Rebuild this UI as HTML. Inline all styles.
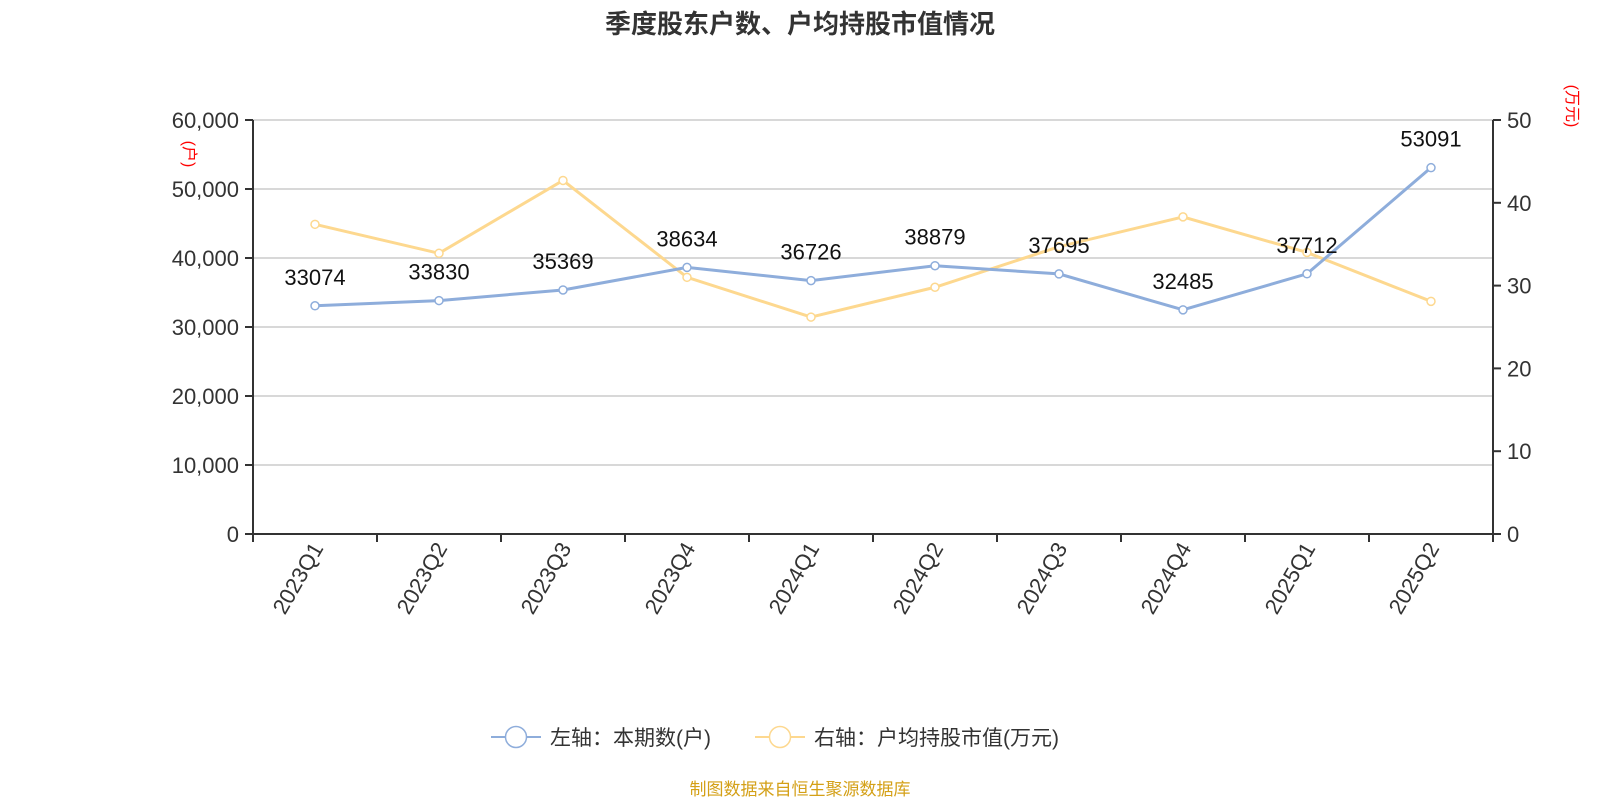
<!DOCTYPE html>
<html><head><meta charset="utf-8"><style>
html,body{margin:0;padding:0;background:#fff;width:1600px;height:800px;overflow:hidden}
text{font-family:"Liberation Sans","Noto Sans CJK SC",sans-serif}
</style></head><body>
<svg id="chart" width="1600" height="800" xmlns="http://www.w3.org/2000/svg">
<text x="800" y="33" text-anchor="middle" font-size="26" font-weight="bold" fill="#333">季度股东户数、户均持股市值情况</text>
<g id="grid"></g><g id="axes"></g><g id="series"></g>
<text transform="translate(184,154) rotate(90)" text-anchor="middle" font-size="16" fill="#f00">(户)</text>
<text transform="translate(1567,106) rotate(90)" text-anchor="middle" font-size="16" fill="#f00">(万元)</text>
<g>
<g><line x1="491" y1="737" x2="541" y2="737" stroke="#8eaddb" stroke-width="2"/><circle cx="516" cy="737" r="10.5" fill="#fff" stroke="#8eaddb" stroke-width="1.5"/><text x="550" y="745" font-size="21" fill="#333">左轴：本期数(户)</text></g>
<g><line x1="755" y1="737" x2="805" y2="737" stroke="#fdd88f" stroke-width="2"/><circle cx="780" cy="737" r="10.5" fill="#fff" stroke="#fdd88f" stroke-width="1.5"/><text x="814" y="745" font-size="21" fill="#333">右轴：户均持股市值(万元)</text></g>
</g>
<text x="800" y="795" text-anchor="middle" font-size="17" fill="#d4a017">制图数据来自恒生聚源数据库</text>
</svg>
<script>
const categories=["2023Q1","2023Q2","2023Q3","2023Q4","2024Q1","2024Q2","2024Q3","2024Q4","2025Q1","2025Q2"];
const holders=[33074,33830,35369,38634,36726,38879,37695,32485,37712,53091];
const avgValue=[37.4,33.9,42.7,31.0,26.2,29.8,34.7,38.3,34.0,28.1];
const leftTicks=[0,10000,20000,30000,40000,50000,60000];
const rightTicks=[0,10,20,30,40,50];
const L=253,R=1493,T=120,B=534;
const NS="http://www.w3.org/2000/svg";
const bw=(R-L)/categories.length;
const xPos=i=>L+bw*(i+0.5);
const yL=v=>B-(v/60000)*(B-T);
const yR=v=>B-(v/50)*(B-T);
function mk(tag,attrs,parent,txt){const e=document.createElementNS(NS,tag);for(const k in attrs)e.setAttribute(k,attrs[k]);if(txt!==undefined)e.textContent=txt;parent.appendChild(e);return e;}
const grid=document.getElementById('grid'),axes=document.getElementById('axes'),ser=document.getElementById('series');
leftTicks.forEach(v=>{
  if(v>0){const g=mk('line',{x1:L,x2:R,y1:yL(v),y2:yL(v),stroke:'#ccc','stroke-width':1.5},grid);
  
  }
  mk('line',{x1:L-8,x2:L,y1:yL(v),y2:yL(v),stroke:'#333','stroke-width':2},axes);
  const t=mk('text',{x:L-14,y:yL(v)+8,'text-anchor':'end','font-size':22,fill:'#333'},axes,v.toLocaleString('en-US'));
  
  
});
rightTicks.forEach(v=>{
  mk('line',{x1:R,x2:R+8,y1:yR(v),y2:yR(v),stroke:'#333','stroke-width':2},axes);
  const t=mk('text',{x:R+14,y:yR(v)+8,'font-size':22,fill:'#333'},axes,String(v));
  
  
});
mk('line',{x1:L,x2:L,y1:T,y2:B,stroke:'#333','stroke-width':2},axes);
mk('line',{x1:R,x2:R,y1:T,y2:B,stroke:'#333','stroke-width':2},axes);
mk('line',{x1:L,x2:R,y1:B,y2:B,stroke:'#333','stroke-width':2},axes);
for(let i=0;i<=categories.length;i++)mk('line',{x1:L+bw*i,x2:L+bw*i,y1:B,y2:B+8,stroke:'#333','stroke-width':2},axes);
categories.forEach((c,i)=>{
  const t=mk('text',{transform:`translate(${xPos(i)+9},${B+14}) rotate(-60)`,'text-anchor':'end','font-size':22,fill:'#333'},axes,c);
  
  
});
const p2=mk('polyline',{points:avgValue.map((v,i)=>xPos(i)+','+yR(v)).join(' '),fill:'none',stroke:'#fdd88f','stroke-width':3},ser);


avgValue.forEach((v,i)=>{const c=mk('circle',{cx:xPos(i),cy:yR(v),r:4,fill:'#fff',stroke:'#fdd88f','stroke-width':1.5},ser);
  
  });
const p1=mk('polyline',{points:holders.map((v,i)=>xPos(i)+','+yL(v)).join(' '),fill:'none',stroke:'#8eaddb','stroke-width':3},ser);


holders.forEach((v,i)=>{const c=mk('circle',{cx:xPos(i),cy:yL(v),r:4,fill:'#fff',stroke:'#8eaddb','stroke-width':1.5},ser);
  
  
  const t=mk('text',{x:xPos(i),y:yL(v)-21,'text-anchor':'middle','font-size':22,fill:'#111'},ser,String(v));
  
  });
</script>
</body></html>
